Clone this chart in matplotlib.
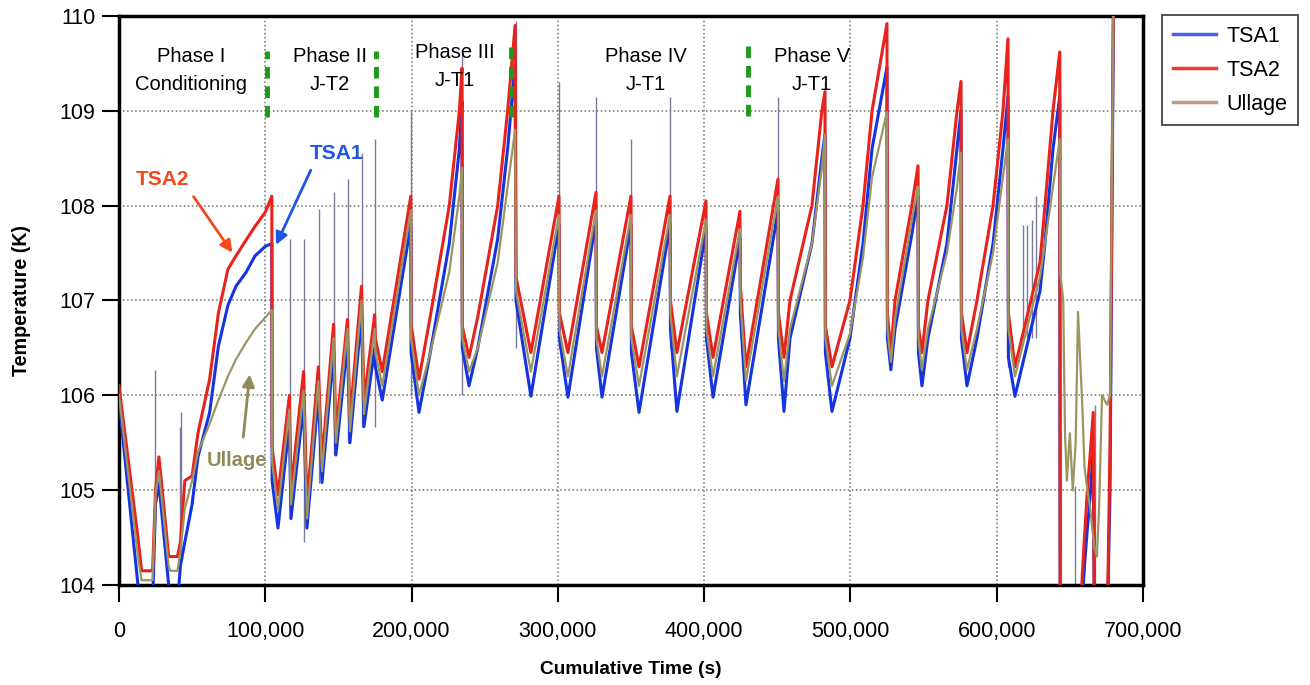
import matplotlib
matplotlib.use('Agg')
import matplotlib.pyplot as plt
from matplotlib.lines import Line2D
import numpy as np

plt.rcParams['font.family'] = ['Liberation Sans', 'DejaVu Sans']

# time in thousands of seconds, shared by the three sensors
t_ks = [0, 13, 15.5, 23, 25, 27.3, 29, 34, 35, 40, 42, 45, 50, 54, 62, 68, 74.5, 80, 87, 93, 100, 104.5,
        104.7, 108.7, 116.5, 117.6, 126.2, 128.5, 136.3, 138.8, 146.7, 148.3, 156.2, 157.9, 165.8, 167.5,
        174.8, 175.3, 180.0, 199.5,
        199.7, 205.1, 212.8, 225.8, 232.7, 234.5, 234.7, 239.3, 245.3, 258.9, 265.7, 270.8, 271.4, 281.6, 300.8,
        301.1, 306.9, 326.1, 326.4, 330.2, 350.0, 350.3, 355.5, 376.7, 377.0, 381.4, 401.3, 401.6, 406.1,
        424.5, 424.8, 428.6, 450.5, 450.8, 454.6, 458.7, 473.7, 480.5, 482.6, 482.9, 487.4, 499.7, 508.6,
        514.8, 525.0, 525.3, 527.7, 530.5, 542.0, 546.2, 546.5, 548.9, 553.0, 566.0, 572.9, 575.6, 575.9,
        579.7, 586.5, 597.5, 604.3, 607.7, 608.0, 612.5, 629.6, 633.0, 638.5, 643.1, 643.4,
        645.5, 646.7, 648.0, 650.0, 652.0, 654.0, 655.6, 657.0, 658.5, 660.0, 662.0, 664.0, 666.0, 666.8,
        668.5, 670.0, 672.0, 675.5, 677.5, 680.0]

tsa2 = [106.1, 104.5, 104.15, 104.15, 105.0, 105.35, 105.1, 104.3, 104.3, 104.3, 104.45, 105.1, 105.15, 105.6,
        106.17, 106.87, 107.33, 107.47, 107.64, 107.78, 107.93, 108.1,
        105.45, 104.95, 106.0, 105.0, 106.25, 104.85, 106.3, 105.3, 106.75, 105.6, 106.8, 105.75, 107.15, 105.95,
        106.85, 106.6, 106.25, 108.1,
        106.75, 106.17, 106.83, 108.0, 109.0, 109.45, 106.73, 106.4, 106.83, 108.0, 109.0, 109.9, 107.25, 106.45, 108.1,
        106.87, 106.45, 108.14, 106.73, 106.45, 108.1, 106.73, 106.3, 108.1, 107.0, 106.45, 108.05, 106.87, 106.4,
        107.94, 107.15, 106.3, 108.28, 106.87, 106.4, 107.0, 108.0, 109.0, 109.2, 106.73, 106.3, 107.0, 108.0,
        109.0, 109.92, 106.87, 106.45, 107.0, 108.0, 108.42, 106.73, 106.45, 107.0, 108.0, 109.0, 109.31, 106.87,
        106.45, 107.0, 108.0, 109.0, 109.76, 106.87, 106.3, 107.4, 108.0, 109.0, 109.62, 103.5,
        103.5, 103.5, 103.5, 103.5, 103.5, 103.5, 103.5, 103.6, 104.1, 104.5, 105.0, 105.4, 105.82, 103.5,
        103.5, 103.5, 103.5, 103.5, 105.5, 110.6]

tsa1 = [105.95, 104.0, 103.8, 103.8, 104.85, 105.08, 104.8, 104.0, 103.8, 103.8, 104.2, 104.45, 104.85, 105.35,
        105.82, 106.52, 106.95, 107.15, 107.3, 107.47, 107.57, 107.6,
        105.1, 104.6, 105.7, 104.7, 105.9, 104.6, 106.0, 105.08, 106.45, 105.37, 106.55, 105.5, 106.85, 105.67,
        106.5, 106.3, 105.95, 107.8,
        106.45, 105.82, 106.45, 107.6, 108.6, 109.1, 106.5, 106.1, 106.5, 107.65, 108.6, 109.5, 107.0, 105.99, 107.8,
        106.6, 105.98, 107.85, 106.5, 105.98, 107.8, 106.45, 105.82, 107.8, 106.7, 105.83, 107.75, 106.6, 105.98,
        107.65, 106.85, 105.9, 107.95, 106.6, 105.83, 106.6, 107.6, 108.5, 108.75, 106.45, 105.83, 106.6, 107.6,
        108.6, 109.46, 106.6, 106.27, 106.7, 107.7, 108.1, 106.45, 106.1, 106.6, 107.6, 108.6, 109.0, 106.6,
        106.1, 106.6, 107.6, 108.6, 109.15, 106.4, 105.99, 107.1, 107.6, 108.6, 109.15, 103.5,
        103.5, 103.5, 103.5, 103.5, 103.5, 103.5, 103.5, 103.5, 103.8, 104.2, 104.6, 104.95, 105.45, 103.5,
        103.5, 103.5, 103.5, 103.5, 105.0, 110.5]

ullage = [106.0, 104.3, 104.05, 104.05, 104.95, 105.2, 104.95, 104.2, 104.15, 104.15, 104.35, 104.8, 105.1, 105.4,
          105.7, 105.95, 106.2, 106.38, 106.56, 106.7, 106.82, 106.9,
          105.3, 104.8, 105.85, 104.85, 106.05, 104.7, 106.15, 105.2, 106.6, 105.5, 106.7, 105.62, 107.0, 105.8,
          106.7, 106.45, 106.1, 107.95,
          106.6, 106.0, 106.45, 107.3, 108.1, 108.4, 106.6, 106.25, 106.5, 107.4, 108.2, 108.8, 107.1, 106.25, 107.9,
          106.7, 106.2, 107.95, 106.6, 106.2, 107.9, 106.6, 106.1, 107.9, 106.85, 106.2, 107.85, 106.7, 106.2,
          107.75, 107.0, 106.15, 108.1, 106.7, 106.15, 106.7, 107.6, 108.4, 108.75, 106.6, 106.1, 106.65, 107.45,
          108.3, 108.99, 106.7, 106.35, 106.8, 107.85, 108.2, 106.6, 106.27, 106.7, 107.5, 108.2, 108.56, 106.7,
          106.27, 106.7, 107.5, 108.3, 108.7, 106.7, 106.2, 107.25, 107.6, 108.2, 108.7, 107.3,
          107.0, 105.6, 105.1, 105.6, 105.0, 105.5, 106.88, 106.4, 105.9, 105.25, 105.0, 104.8, 104.5, 104.4,
          104.3, 104.8, 106.0, 105.9, 106.0, 110.5]

# thin spikes (time in ks, low, high)
spike_t = [24.6, 41.5, 42.6, 116.9, 126.5, 136.7, 147.0, 156.5, 166.1, 175.0, 199.6, 234.6, 271.1, 300.9, 326.2,
           350.1, 376.8, 450.6, 482.7, 546.3, 575.7, 607.8, 618, 621, 624, 627, 643.3, 653.5, 666.9]
spike_lo = [104.9, 104.3, 104.3, 104.7, 104.45, 105.08, 105.37, 105.5, 105.67, 105.67, 105.99, 106.0, 106.5, 106.5,
            106.5, 106.4, 106.5, 106.5, 106.5, 106.5, 106.5, 106.3, 106.6, 106.6, 106.6, 106.6, 103.9, 103.9, 103.9]
spike_hi = [106.27, 105.67, 105.82, 107.65, 107.65, 107.96, 108.14, 108.28, 108.56, 108.7, 109.0, 109.6, 109.95,
            109.3, 109.15, 108.7, 109.15, 109.15, 109.3, 108.42, 109.31, 109.76, 107.8, 107.8, 107.85, 108.1,
            109.62, 105.04, 105.9]

phase_labels = ['Phase I\nConditioning', 'Phase II\nJ-T2', 'Phase III\nJ-T1', 'Phase IV\nJ-T1', 'Phase V\nJ-T1']
phase_x = [49.2, 144.2, 229.7, 360.3, 473.7]
phase_y = [109.43, 109.43, 109.47, 109.43, 109.43]
switch_t = [100.9, 175.5, 268.0, 430.2]
switch_lo = [108.93, 108.93, 108.93, 108.94]
switch_hi = [109.63, 109.63, 109.72, 109.71]

xticks = [0, 100000, 200000, 300000, 400000, 500000, 600000, 700000]
xtick_labels = ['0', '100,000', '200,000', '300,000', '400,000', '500,000', '600,000', '700,000']
yticks = [104, 105, 106, 107, 108, 109, 110]

t = np.array(t_ks) * 1000
c_tsa1 = '#1533e0'
c_tsa2 = '#e8231e'
c_ull = '#9b9563'

fig = plt.figure(figsize=(13.1, 6.85), dpi=100)
ax = fig.add_axes([0.0908, 0.146, 0.7817, 0.8307])

ax.vlines(np.array(spike_t) * 1000, spike_lo, spike_hi, color='#7a7a9e', lw=1.0, zorder=2)
ax.plot(t, tsa1, color=c_tsa1, lw=2.2, zorder=3)
ax.plot(t, tsa2, color=c_tsa2, lw=2.2, zorder=3)
ax.plot(t, ullage, color=c_ull, lw=1.6, zorder=4)

for x, y, s in zip(phase_x, phase_y, phase_labels):
    ax.text(x * 1000, y, s, ha='center', va='center', fontsize=14.5, linespacing=1.6, zorder=6)

for x, lo, hi in zip(switch_t, switch_lo, switch_hi):
    ax.plot([x * 1000, x * 1000], [lo, hi], color='#1a9c1a', lw=3.5, linestyle=(0, (2.4, 1.6)), zorder=6)

# callouts
ax.annotate('', xy=(78600, 107.48), xytext=(49900, 108.12),
            arrowprops=dict(arrowstyle='-|>', color='#f24a1e', lw=2, mutation_scale=18), zorder=7)
ax.text(30100, 108.28, 'TSA2', color='#f24a1e', fontsize=15, fontweight='bold', ha='center', va='center')
ax.annotate('', xy=(106600, 107.56), xytext=(131900, 108.40),
            arrowprops=dict(arrowstyle='-|>', color='#1e55e6', lw=2, mutation_scale=18), zorder=7)
ax.text(149000, 108.55, 'TSA1', color='#1e55e6', fontsize=15, fontweight='bold', ha='center', va='center')
ax.annotate('', xy=(89600, 106.25), xytext=(84800, 105.53),
            arrowprops=dict(arrowstyle='-|>', color='#8f8a58', lw=2, mutation_scale=18), zorder=7)
ax.text(80700, 105.31, 'Ullage', color='#8f8a58', fontsize=14.5, fontweight='bold', ha='center', va='center')

ax.set_xlim(0, 700000)
ax.set_ylim(104, 110)
ax.set_xticks(xticks)
ax.set_xticklabels(xtick_labels)
ax.set_yticks(yticks)
ax.tick_params(axis='both', direction='out', length=12, width=1.5, labelsize=15.5)
ax.tick_params(axis='x', pad=14)
ax.tick_params(axis='y', pad=5)
ax.grid(True, linestyle=':', color='#707070', lw=1.1)
for sp in ax.spines.values():
    sp.set_linewidth(2.5)

ax.set_xlabel('Cumulative Time (s)', fontsize=13.8, fontweight='bold')
ax.set_ylabel('Temperature (K)', fontsize=14.2, fontweight='bold')
ax.xaxis.set_label_coords(0.4995, -0.133)
ax.yaxis.set_label_coords(-0.086, 0.5)

handles = [Line2D([], [], color='#4c5fe6', lw=2.5),
           Line2D([], [], color='#ee3b2e', lw=2.5),
           Line2D([], [], color='#c49a80', lw=2.5)]
leg = fig.legend(handles, ['TSA1', 'TSA2', 'Ullage'], loc='upper left',
                 bbox_to_anchor=(1162 / 1310, 1 - 15 / 685), fontsize=15.5, frameon=True,
                 fancybox=False, edgecolor='black', handlelength=2.0, handletextpad=0.5,
                 labelspacing=0.6, borderpad=0.5, borderaxespad=0)
leg.get_frame().set_linewidth(1.2)

fig.savefig('out.png', dpi=100)
